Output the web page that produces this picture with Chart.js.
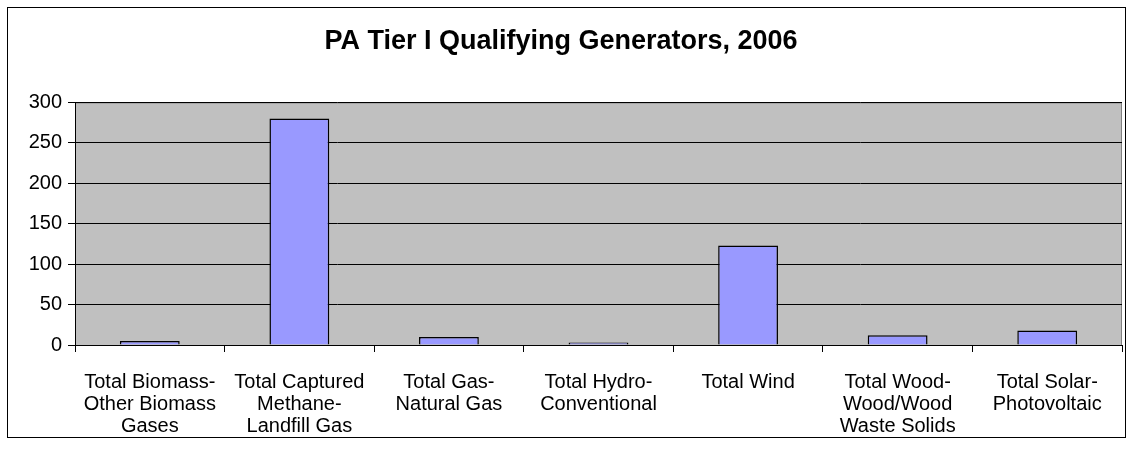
<!DOCTYPE html>
<html>
<head>
<meta charset="utf-8">
<script src="https://cdn.jsdelivr.net/npm/chart.js@4/dist/chart.umd.min.js"></script>
<style>
    html, body { margin: 0; padding: 0; background: #fff; }
    #wrap { position: relative; width: 1135px; height: 467px; }
</style>
</head>
<body>
<div id="wrap"><canvas id="chart"></canvas></div>
<script>
// Data
const categories = [
    ['Total Biomass-', 'Other Biomass', 'Gases'],
    ['Total Captured', 'Methane-', 'Landfill Gas'],
    ['Total Gas-', 'Natural Gas'],
    ['Total Hydro-', 'Conventional'],
    ['Total Wind'],
    ['Total Wood-', 'Wood/Wood', 'Waste Solids'],
    ['Total Solar-', 'Photovoltaic'],
];
const generators = [5, 280, 10, 3, 123, 12, 18];
const yMin = 0;
const yMax = 300;
const yStep = 50;

const FONT = '"Liberation Sans", Arial, sans-serif';

// gray plot area + outer frame, like the old Excel look
const excelFrame = {
    id: 'excelFrame',
    beforeDraw(chart) {
        const { ctx, chartArea: a } = chart;
        ctx.save();
        ctx.fillStyle = '#ffffff';
        ctx.fillRect(0, 0, chart.width, chart.height);
        ctx.fillStyle = '#c0c0c0';
        ctx.fillRect(a.left, a.top, a.right - a.left, a.bottom - a.top);
        ctx.strokeStyle = '#808080';
        ctx.lineWidth = 1;
        ctx.strokeRect(a.left + 0.5, a.top + 0.5, a.right - a.left - 1, a.bottom - a.top);
        ctx.restore();
    },
    afterDraw(chart) {
        const { ctx } = chart;
        ctx.save();
        ctx.strokeStyle = '#000000';
        ctx.lineWidth = 1;
        ctx.strokeRect(7.5, 7.5, 1118, 430);
        ctx.restore();
    },
};

new Chart(document.getElementById('chart'), {
    type: 'bar',
    data: {
        labels: categories,
        datasets: [{
            label: 'Generators',
            data: generators,
            backgroundColor: '#9999ff',
            borderColor: '#000000',
            borderWidth: 1.5,
            barPercentage: 0.4,
            categoryPercentage: 1,
        }],
    },
    options: {
        responsive: true,
        maintainAspectRatio: false,
        animation: false,
        layout: { padding: { left: 0, right: 13, top: 0, bottom: 0 } },
        plugins: {
            legend: { display: false },
            tooltip: { enabled: false },
            title: {
                display: true,
                text: 'PA Tier I Qualifying Generators, 2006',
                color: '#000',
                font: { family: FONT, size: 27, weight: 'bold' },
                padding: { top: 25, bottom: 45 },
            },
        },
        scales: {
            x: {
                afterFit(scale) { scale.height = 122; },
                grid: {
                    offset: true,
                    drawOnChartArea: false,
                    color: '#000',
                    tickLength: 7,
                },
                border: { color: '#000', width: 1 },
                ticks: {
                    color: '#000',
                    padding: 19,
                    maxRotation: 0,
                    autoSkip: false,
                    font: { family: FONT, size: 20, lineHeight: 22 / 20 },
                },
            },
            y: {
                min: yMin,
                max: yMax,
                afterFit(scale) { scale.width = 75; },
                grid: {
                    color: '#000',
                    tickLength: 7,
                },
                border: { color: '#000', width: 1 },
                ticks: {
                    stepSize: yStep,
                    color: '#000',
                    padding: 6,
                    font: { family: FONT, size: 20 },
                },
            },
        },
    },
    plugins: [excelFrame],
});
</script>
</body>
</html>
